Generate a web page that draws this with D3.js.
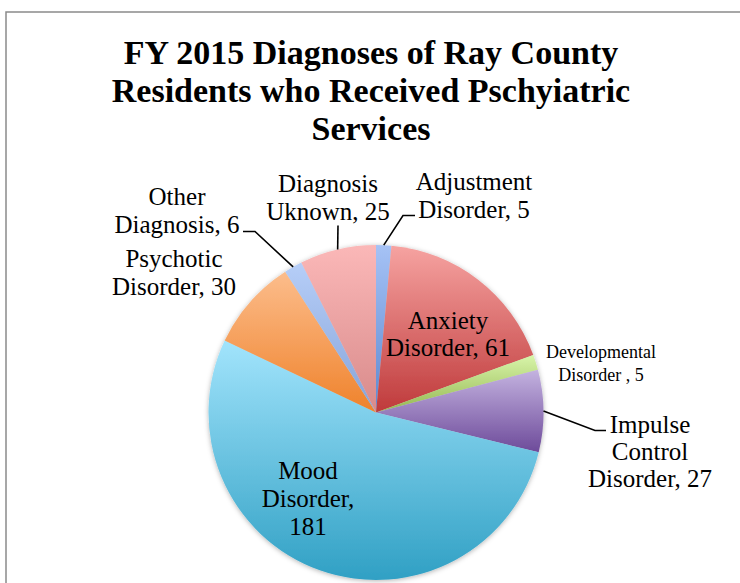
<!DOCTYPE html>
<html>
<head>
<meta charset="utf-8">
<script src="https://cdn.jsdelivr.net/npm/d3@7"></script>
<style>
  html, body { margin: 0; padding: 0; background: #fff; }
  svg { display: block; }
</style>
</head>
<body>
<div id="chart"></div>
<script>
var categories = ["Adjustment Disorder", "Anxiety Disorder", "Developmental Disorder ",
                  "Impulse Control Disorder", "Mood Disorder", "Psychotic Disorder",
                  "Other Diagnosis", "Diagnosis Uknown"];
var values = [5, 61, 5, 27, 181, 30, 6, 25];

var title_lines = ["FY 2015 Diagnoses of Ray County",
                   "Residents who Received Pschyiatric",
                   "Services"];

// top (light) and bottom (dark) colour of every slice gradient
var color_top = ["#a6c2f5", "#f6a3a1", "#d8f5aa", "#c4b3e0", "#a2e4fc", "#fcbd8c", "#b6cef8", "#fbb8b8"];
var color_bottom = ["#5d88d0", "#bf3a3b", "#95b752", "#6d4a9a", "#30a0c4", "#ef822b", "#86a3d8", "#d88a8a"];

var svg_width = 740,
    svg_height = 583,
    cx = 376,
    cy = 412.5,
    radius = 167.5;

// label placement (Excel "best fit"), relative to the pie centre
var label_layout = [
    {x: 98,  y: -223, size: 25, lh: 28, wrap: 140, leader: [[27, -197], [39, -197]]},
    {x: 72,  y: -84,  size: 25, lh: 27, wrap: 140},
    {x: 225, y: -55,  size: 18, lh: 23, wrap: 130},
    {x: 274, y: 20,   size: 25, lh: 27, wrap: 130, leader: [[219, 18], [230, 18]]},
    {x: -68, y: 66,   size: 25, lh: 28, wrap: 130},
    {x: -202, y: -146, size: 25, lh: 28, wrap: 140},
    {x: -199, y: -208, size: 25, lh: 28, wrap: 140, leader: [[-121, -181], [-133, -181]]},
    {x: -48, y: -221, size: 25, lh: 28, wrap: 140, leader: [[-38, -187]]}
];

var svg = d3.select("#chart").append("svg")
    .attr("width", svg_width)
    .attr("height", svg_height);

var defs = svg.append("defs");

var shadow = defs.append("filter")
    .attr("id", "shadow")
    .attr("x", "-10%").attr("y", "-10%")
    .attr("width", "120%").attr("height", "120%");
shadow.append("feDropShadow")
    .attr("dx", 0).attr("dy", 1)
    .attr("stdDeviation", 2.5)
    .attr("flood-color", "#000")
    .attr("flood-opacity", 0.3);

categories.forEach(function (c, i) {
    var g = defs.append("linearGradient")
        .attr("id", "grad" + i)
        .attr("x1", 0).attr("y1", 0)
        .attr("x2", 0).attr("y2", 1);
    g.append("stop").attr("offset", "0%").attr("stop-color", color_top[i]);
    g.append("stop").attr("offset", "100%").attr("stop-color", color_bottom[i]);
});

// chart frame
svg.append("rect")
    .attr("x", 6)
    .attr("y", 12)
    .attr("width", svg_width + 20)
    .attr("height", svg_height + 20)
    .attr("fill", "none")
    .attr("stroke", "#8a8a8a")
    .attr("stroke-width", 1.5);

svg.append("g")
    .selectAll("text")
    .data(title_lines)
    .enter().append("text")
    .attr("x", 371)
    .attr("y", function (d, i) { return 64 + i * 38; })
    .attr("text-anchor", "middle")
    .attr("font-family", "'Liberation Serif', 'DejaVu Serif', serif")
    .attr("font-weight", "bold")
    .attr("font-size", "34px")
    .attr("fill", "#000")
    .text(function (d) { return d; });

var pie = d3.pie().sort(null).value(function (d) { return d; });
var arcs = pie(values);

var arc = d3.arc().innerRadius(0).outerRadius(radius);
var edge = d3.arc().innerRadius(radius).outerRadius(radius);

var pie_g = svg.append("g")
    .attr("transform", "translate(" + cx + "," + cy + ")");

pie_g.append("g")
    .attr("filter", "url(#shadow)")
    .selectAll("path")
    .data(arcs)
    .enter().append("path")
    .attr("d", arc)
    .attr("fill", function (d, i) { return "url(#grad" + i + ")"; });

// leader lines
arcs.forEach(function (d, i) {
    var lay = label_layout[i];
    if (!lay.leader) return;
    var pts = [edge.centroid(d)].concat(lay.leader);
    pie_g.append("path")
        .attr("d", d3.line()(pts))
        .attr("fill", "none")
        .attr("stroke", "#000")
        .attr("stroke-width", 1.6);
});

// data labels, wrapped the way Excel wraps them
var WrapWords = function (textSel, words, width) {
    var lines = [], cur = [];
    for (var i = 0; i < words.length; i++) {
        var trial = cur.concat([words[i]]).join(" ");
        textSel.text(trial);
        if (cur.length && textSel.node().getComputedTextLength() > width) {
            lines.push(cur.join(" "));
            cur = [words[i]];
        } else {
            cur.push(words[i]);
        }
    }
    if (cur.length) lines.push(cur.join(" "));
    textSel.text(null);
    return lines;
};

arcs.forEach(function (d, i) {
    var lay = label_layout[i];
    var label = categories[i] + ", " + values[i];
    var words = label.split(" ");
    var t = pie_g.append("text")
        .attr("text-anchor", "middle")
        .attr("font-family", "'Liberation Serif', 'DejaVu Serif', serif")
        .attr("font-size", lay.size + "px")
        .attr("fill", "#000");
    var lines = WrapWords(t, words, lay.wrap);
    t.selectAll("tspan")
        .data(lines)
        .enter().append("tspan")
        .attr("x", lay.x)
        .attr("y", function (l, k) { return lay.y + k * lay.lh; })
        .text(function (l) { return l; });
});
</script>
</body>
</html>
